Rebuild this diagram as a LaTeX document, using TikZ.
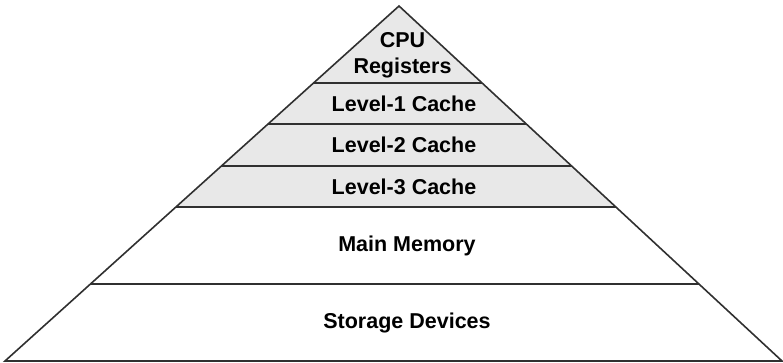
\documentclass[tikz,border=0pt]{standalone}
\usepackage{fontspec}
\setmainfont{Liberation Sans}
\usetikzlibrary{calc}
\definecolor{bandgray}{HTML}{E8E8E8}
\definecolor{edgegray}{HTML}{303030}
\tikzset{
  edge/.style={draw=edgegray, line width=1.6pt, line join=miter},
  lbl/.style={font=\bfseries\fontsize{21.5}{26}\selectfont, align=center, text=black, inner sep=0pt}
}
\begin{document}
\begin{tikzpicture}[x=1pt,y=-1pt]
\useasboundingbox (0,0) rectangle (783,363);
\coordinate (A) at (399,6);
\coordinate (L) at (5,361);
\coordinate (R) at (782,361);
\foreach \n/\t in {a/0.7831,b/0.6676,c/0.5493,d/0.4338,e/0.2169}{
  \coordinate (L\n) at ($(L)!\t!(A)$);
  \coordinate (R\n) at ($(R)!\t!(A)$);
}
\fill[bandgray] (A) -- (Ld) -- (Rd) -- cycle;
\draw[edge] (A) -- (L) -- (R) -- cycle;
\foreach \n in {a,b,c,d,e}{\draw[edge] (L\n) -- (R\n);}
\node[lbl] (cpu) at (402.5,55) {CPU\\Registers};
\node[lbl] (l1) at (404,104) {Level-1 Cache};
\node[lbl] (l2) at (404,145) {Level-2 Cache};
\node[lbl] (l3) at (404,187) {Level-3 Cache};
\node[lbl] (mm) at (407,245.5) {Main Memory};
\node[lbl] (sd) at (407,323) {Storage Devices};
\end{tikzpicture}
\end{document}
